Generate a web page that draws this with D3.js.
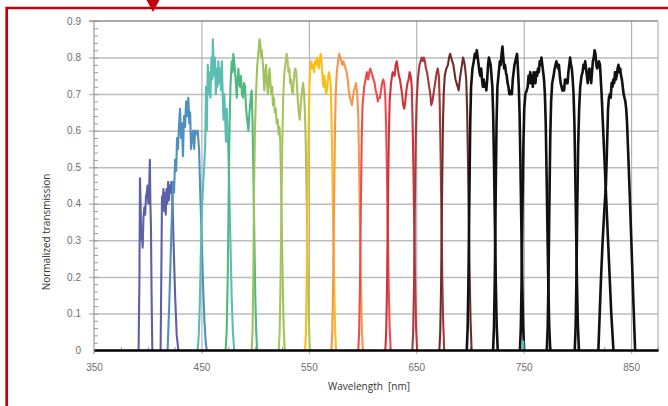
<!DOCTYPE html>
<html>
<head>
<meta charset="utf-8">
<script src="https://cdn.jsdelivr.net/npm/d3@7"></script>
<style>
  body { margin: 0; background: #fff; }
  svg { display: block; font-family: "Open Sans", sans-serif; }
</style>
</head>
<body>
<svg id="chart" width="668" height="406"></svg>
<script>
// each band: [wavelength (nm), normalized transmission]
const violet1 = [[391.5,0],[392.3,0.2],[392.8,0.47],[393.4,0.4],[393.9,0.3],[394.6,0.33],[395.3,0.28],[396,0.36],[396.8,0.39],[397.6,0.37],[398.4,0.42],[399.2,0.43],[399.8,0.45],[400.6,0.4],[401.3,0.44],[402,0.52],[402.5,0.4],[403,0.34],[403.6,0.15],[404.3,0]];
const violet2 = [[412,0],[412.8,0.25],[413.3,0.42],[414,0.4],[414.6,0.44],[415.3,0.38],[416,0.43],[416.8,0.37],[417.5,0.44],[418.2,0.4],[419,0.46],[419.8,0.41],[420.5,0.45],[421.3,0.43],[422,0.46],[422.8,0.44],[424,0.3],[425.5,0.15],[427,0.04],[428.5,0]];
const steelBlue = [[418.5,0],[420,0.12],[422,0.32],[423.5,0.46],[424.5,0.43],[425.5,0.52],[426.5,0.49],[427.3,0.58],[428.2,0.55],[429.2,0.62],[430.1,0.66],[431,0.58],[431.8,0.62],[432.8,0.53],[433.8,0.64],[434.8,0.61],[435.7,0.68],[436.8,0.64],[437.8,0.69],[438.7,0.62],[439.5,0.65],[440.3,0.55],[441.2,0.58],[442.2,0.6],[443.2,0.55],[444.2,0.6],[445.2,0.59],[446.5,0.6],[447.8,0.55],[449,0.42],[450.3,0.3],[451.5,0.18],[452.8,0.08],[454,0.02],[455,0]];
const teal = [[446.5,0],[447.5,0.04],[448.5,0.13],[449.5,0.27],[450.5,0.38],[451.5,0.45],[452.5,0.5],[453.5,0.56],[454.3,0.72],[455,0.6],[455.9,0.78],[456.8,0.7],[457.6,0.76],[458.4,0.69],[459.3,0.8],[460,0.74],[460.6,0.85],[461.3,0.79],[461.9,0.75],[462.6,0.8],[463.4,0.7],[464.2,0.77],[465,0.72],[465.8,0.79],[466.6,0.73],[467.4,0.77],[468.2,0.71],[469,0.79],[469.8,0.7],[470.5,0.63],[471.3,0.7],[472,0.64],[472.8,0.57],[473.6,0.66],[474.4,0.6],[475.3,0.52],[476.2,0.4],[477.2,0.27],[478.2,0.14],[479.3,0.05],[480.5,0]];
const green = [[472.5,0],[473.5,0.05],[474.5,0.2],[475.3,0.4],[476,0.58],[477,0.72],[478.2,0.79],[479,0.76],[479.7,0.81],[480.5,0.79],[481.3,0.76],[482.1,0.73],[482.9,0.69],[483.7,0.74],[484.4,0.77],[485.2,0.73],[485.9,0.72],[486.8,0.75],[487.7,0.7],[488.7,0.69],[489.6,0.73],[490.6,0.72],[491.4,0.67],[492.2,0.64],[493,0.62],[493.7,0.6],[494.5,0.64],[495.3,0.67],[496.2,0.7],[496.8,0.71],[497.6,0.62],[498.5,0.45],[499.4,0.28],[500.2,0.14],[501,0.05],[501.8,0]];
const yellowGreen = [[496.8,0],[497.6,0.05],[498.3,0.2],[499,0.45],[499.8,0.6],[500.8,0.7],[502,0.78],[503.2,0.82],[504,0.85],[504.8,0.84],[505.5,0.8],[506.2,0.82],[507,0.79],[507.8,0.76],[508.5,0.71],[509.3,0.75],[510.2,0.78],[511,0.73],[511.8,0.7],[512.6,0.74],[513.4,0.77],[514.2,0.73],[515,0.7],[515.8,0.72],[516.6,0.67],[517.4,0.69],[518.3,0.65],[519.2,0.66],[520.1,0.62],[521,0.63],[521.8,0.59],[522.6,0.61],[523.4,0.57],[524.2,0.45],[525,0.3],[525.8,0.16],[526.6,0.06],[527.5,0]];
const olive = [[522,0],[522.8,0.05],[523.6,0.18],[524.4,0.38],[525.2,0.55],[526,0.68],[527,0.75],[528,0.78],[529.4,0.81],[530.2,0.79],[531,0.76],[531.8,0.77],[532.6,0.73],[533.4,0.74],[534.2,0.71],[535,0.7],[535.8,0.73],[536.6,0.76],[537.4,0.77],[538.2,0.76],[539,0.72],[539.8,0.68],[540.6,0.65],[541.4,0.63],[542.2,0.66],[543,0.69],[543.8,0.71],[544.6,0.73],[545.4,0.71],[546.2,0.66],[547,0.58],[547.8,0.45],[548.6,0.3],[549.4,0.16],[550.2,0.06],[551,0]];
const gold = [[546.5,0],[547.3,0.05],[548.1,0.2],[548.9,0.42],[549.7,0.6],[550.5,0.72],[551.3,0.77],[552.3,0.79],[553.2,0.77],[554,0.78],[554.9,0.76],[555.8,0.79],[556.6,0.78],[557.5,0.8],[558.4,0.78],[559.3,0.77],[560.2,0.8],[561.1,0.81],[562,0.78],[562.8,0.74],[563.6,0.72],[564.4,0.75],[565.2,0.73],[566,0.7],[566.8,0.71],[567.7,0.74],[568.6,0.76],[569.5,0.75],[570.4,0.72],[571.2,0.62],[572,0.48],[572.8,0.32],[573.6,0.17],[574.4,0.06],[575.3,0]];
const orange = [[571,0],[571.8,0.05],[572.6,0.18],[573.4,0.4],[574.2,0.58],[575,0.7],[576,0.76],[577.2,0.79],[578.2,0.81],[579.2,0.8],[580.2,0.79],[581.2,0.78],[582.2,0.79],[583.2,0.78],[584.2,0.77],[585.2,0.76],[586.2,0.74],[587.2,0.71],[588.2,0.69],[589.2,0.68],[590.1,0.67],[591,0.69],[592,0.71],[593,0.72],[594,0.73],[595,0.7],[596,0.64],[596.8,0.5],[597.6,0.34],[598.4,0.19],[599.2,0.07],[600.2,0]];
const coral = [[596,0],[596.8,0.05],[597.6,0.18],[598.4,0.4],[599.2,0.58],[600,0.67],[601.5,0.72],[602.8,0.74],[604,0.76],[605.2,0.74],[606.2,0.76],[607.2,0.77],[608.2,0.76],[609.2,0.75],[610.2,0.74],[611.2,0.73],[612.2,0.71],[613.2,0.7],[614.2,0.68],[615.2,0.69],[616.2,0.69],[617.2,0.71],[618.2,0.73],[619.2,0.74],[620.2,0.73],[621.2,0.69],[622,0.6],[622.8,0.47],[623.6,0.31],[624.4,0.16],[625.2,0.06],[626.2,0]];
const red = [[621.2,0],[622,0.05],[622.8,0.18],[623.6,0.4],[624.4,0.58],[625.2,0.68],[626.5,0.73],[628,0.76],[629.8,0.75],[630.8,0.78],[631.8,0.79],[632.8,0.77],[633.8,0.75],[634.8,0.74],[635.8,0.72],[636.8,0.7],[637.8,0.67],[638.8,0.66],[639.8,0.68],[640.8,0.71],[641.8,0.73],[642.8,0.74],[643.8,0.76],[644.8,0.75],[645.8,0.72],[646.6,0.62],[647.4,0.48],[648.2,0.32],[649,0.17],[649.8,0.06],[650.8,0]];
const darkRed = [[646.3,0],[647.1,0.05],[647.9,0.18],[648.7,0.4],[649.5,0.58],[650.3,0.68],[651.5,0.74],[653,0.78],[655,0.8],[656,0.79],[657,0.8],[658,0.79],[659,0.77],[660,0.76],[661,0.74],[662,0.72],[663,0.7],[664,0.67],[665,0.68],[666,0.7],[667,0.72],[668,0.74],[669,0.76],[670,0.77],[671,0.75],[671.8,0.68],[672.6,0.54],[673.4,0.37],[674.2,0.2],[675,0.08],[676,0]];
const maroon = [[671.5,0],[672.3,0.05],[673.1,0.18],[673.9,0.4],[674.7,0.6],[675.5,0.7],[676.5,0.75],[678,0.77],[679.5,0.78],[680.5,0.8],[681.5,0.81],[682.5,0.8],[683.5,0.79],[684.5,0.78],[685.5,0.76],[686.5,0.74],[687.5,0.73],[688.5,0.72],[689.5,0.71],[690.5,0.74],[691.5,0.76],[692.5,0.78],[693.5,0.8],[694.5,0.79],[695.5,0.77],[696.5,0.74],[697.3,0.66],[698.1,0.52],[698.9,0.36],[699.7,0.2],[700.5,0.08],[701.5,0]];
const black1 = [[697,0],[697.8,0.06],[698.6,0.2],[699.4,0.42],[700.2,0.62],[701,0.72],[702.3,0.77],[703.5,0.79],[704.5,0.81],[705.5,0.8],[706.3,0.82],[707.2,0.8],[708,0.78],[708.8,0.76],[709.6,0.75],[710.4,0.77],[711.2,0.74],[712,0.72],[712.8,0.74],[713.6,0.72],[714.4,0.73],[715.2,0.71],[716,0.74],[716.8,0.78],[717.6,0.8],[718.4,0.79],[719.2,0.78],[720,0.75],[720.8,0.72],[721.6,0.64],[722.4,0.5],[723.2,0.34],[724,0.19],[724.8,0.07],[725.8,0]];
const black2 = [[721.5,0],[722.3,0.06],[723.1,0.2],[723.9,0.42],[724.7,0.62],[725.5,0.72],[726.8,0.76],[727.8,0.79],[728.6,0.78],[729.4,0.81],[730.2,0.83],[731,0.8],[731.8,0.77],[732.6,0.78],[733.4,0.76],[734.2,0.75],[735,0.73],[735.8,0.72],[736.6,0.7],[737.4,0.7],[738.2,0.71],[739,0.7],[739.8,0.74],[740.6,0.76],[741.4,0.78],[742.2,0.79],[743,0.8],[743.8,0.81],[744.6,0.77],[745.4,0.72],[746.2,0.64],[747,0.5],[747.8,0.34],[748.6,0.19],[749.4,0.07],[750.4,0]];
const black3 = [[746.5,0],[747.3,0.06],[748.1,0.2],[748.9,0.4],[749.7,0.56],[750.5,0.66],[751.5,0.7],[752.8,0.71],[753.7,0.72],[754.5,0.75],[755.3,0.73],[756.1,0.76],[756.9,0.73],[757.7,0.75],[758.5,0.72],[759.3,0.76],[760.1,0.74],[760.9,0.73],[761.7,0.76],[762.5,0.75],[763.3,0.77],[764.1,0.76],[764.9,0.79],[765.7,0.78],[766.5,0.8],[767.3,0.78],[768.1,0.76],[768.9,0.74],[769.7,0.7],[770.5,0.62],[771.3,0.48],[772.1,0.33],[772.9,0.18],[773.7,0.07],[774.7,0]];
const black4 = [[771.5,0],[772.3,0.06],[773.1,0.2],[773.9,0.4],[774.7,0.58],[775.5,0.68],[776.5,0.73],[777.8,0.75],[778.8,0.77],[779.6,0.78],[780.4,0.79],[781.2,0.78],[782,0.77],[782.8,0.78],[783.6,0.75],[784.4,0.73],[785.2,0.72],[786,0.71],[786.8,0.72],[787.6,0.71],[788.4,0.74],[789.2,0.73],[790,0.74],[790.8,0.73],[791.6,0.76],[792.4,0.78],[793.2,0.8],[794,0.78],[794.8,0.77],[795.6,0.74],[796.4,0.7],[797.2,0.62],[798,0.48],[798.8,0.33],[799.6,0.18],[800.4,0.07],[801.4,0]];
const black5 = [[797.5,0],[798.3,0.06],[799.1,0.2],[799.9,0.4],[800.7,0.56],[801.6,0.66],[802.6,0.72],[803.8,0.75],[804.8,0.76],[805.6,0.78],[806.4,0.77],[807.2,0.79],[808,0.77],[808.8,0.75],[809.6,0.73],[810.4,0.76],[811.2,0.77],[812,0.75],[812.8,0.73],[813.6,0.76],[814.4,0.79],[815.2,0.8],[816,0.82],[816.8,0.81],[817.6,0.78],[818.4,0.77],[819.2,0.78],[820,0.79],[821,0.78],[822.5,0.7],[824,0.6],[825.5,0.5],[827,0.4],[828.5,0.3],[830,0.2],[831.5,0.1],[833.5,0]];
const black6 = [[819.5,0],[820.5,0.08],[822,0.2],[823.5,0.3],[825,0.38],[826.5,0.45],[827.5,0.55],[828.5,0.66],[829.3,0.69],[830.2,0.7],[831,0.69],[831.8,0.73],[832.6,0.72],[833.4,0.74],[834.2,0.73],[835,0.76],[835.8,0.74],[836.6,0.75],[837.4,0.77],[838.2,0.78],[839,0.76],[839.8,0.77],[840.6,0.75],[841.4,0.74],[842.2,0.72],[843,0.7],[843.8,0.69],[844.6,0.68],[845.4,0.66],[846.2,0.62],[847.5,0.52],[849,0.4],[850.5,0.27],[852,0.14],[853.7,0]];
const tealBlip = [[748.8,0],[749,0.024],[749.6,0.024],[749.8,0]];

const bands = [violet1, violet2, steelBlue, teal, green, yellowGreen, olive, gold, orange, coral, red, darkRed, maroon, black1, black2, black3, black4, black5, black6, tealBlip];
const bandColors = ["#5b60a9", "#5b60a9", "#5090bf", "#5cbdb3", "#50b880", "#a0c25a", "#aac262", "#fbbe17", "#f7964a", "#ee4b4f", "#d1323a", "#a43a3c", "#6d2b2b",
                    "#111", "#111", "#111", "#111", "#111", "#111", "#5cbdb3"];

const yLabels = [0, 0.1, 0.2, 0.3, 0.4, 0.5, 0.6, 0.7, 0.8, 0.9];
const xLabels = [350, 450, 550, 650, 750, 850];
const xMinor = [375, 400, 425, 475, 500, 525, 575, 600, 625, 675, 700, 725, 775, 800, 825, 875];

const plotLeft = 94, plotRight = 658, plotTop = 21, plotBottom = 350;

const svg = d3.select("#chart");

const x = d3.scaleLinear().domain([350, 875]).range([plotLeft, plotRight]);
const y = d3.scaleLinear().domain([0, 0.9]).range([plotBottom, plotTop]);

// horizontal gridlines (stick out a bit to the left of the axis)
const yGrid = svg.append("g")
    .attr("transform", "translate(" + (plotLeft - 5) + ",0)")
    .call(d3.axisRight(y).tickValues(yLabels.slice(1, -1)).tickSize(plotRight - plotLeft + 5).tickFormat(""));
yGrid.select(".domain").remove();
yGrid.selectAll("line").attr("stroke", "#bcbcbc").attr("stroke-width", 1.5);

// vertical gridlines at labelled wavelengths, running slightly below the axis
const xGrid = svg.append("g")
    .attr("transform", "translate(0," + (plotBottom + 4) + ")")
    .call(d3.axisTop(x).tickValues(xLabels.slice(1)).tickSize(plotBottom + 4 - plotTop).tickFormat(""));
xGrid.select(".domain").remove();
xGrid.selectAll("line").attr("stroke", "#a6a6a6").attr("stroke-width", 1);

// y minor ticks
const yMinor = svg.append("g")
    .attr("transform", "translate(" + plotLeft + ",0)")
    .call(d3.axisRight(y).ticks(45).tickSize(4).tickFormat(""));
yMinor.select(".domain").remove();
yMinor.selectAll("line").attr("stroke", "#9a9a9a").attr("stroke-width", 1);

// frame: left axis line, top, right
svg.append("line").attr("x1", plotLeft).attr("x2", plotLeft).attr("y1", plotTop).attr("y2", plotBottom + 4)
    .attr("stroke", "#9a9a9a").attr("stroke-width", 1.2);
svg.append("line").attr("x1", plotLeft - 5).attr("x2", plotRight).attr("y1", plotTop).attr("y2", plotTop)
    .attr("stroke", "#8c8c8c").attr("stroke-width", 1.6);
svg.append("line").attr("x1", plotRight).attr("x2", plotRight).attr("y1", plotTop).attr("y2", plotBottom)
    .attr("stroke", "#a6a6a6").attr("stroke-width", 1);

// y tick labels
const yAxis = svg.append("g")
    .attr("transform", "translate(" + plotLeft + ",0)")
    .call(d3.axisLeft(y).tickValues(yLabels).tickSize(0).tickPadding(13)
      .tickFormat(d => d === 0 ? "0" : d3.format(".1f")(d)));
yAxis.select(".domain").remove();
yAxis.selectAll("text").attr("fill", "#6e6e6e").style("font-size", "10px");

// x minor ticks (pointing up)
const xMin = svg.append("g")
    .attr("transform", "translate(0," + plotBottom + ")")
    .call(d3.axisTop(x).tickValues(xMinor).tickSize(3).tickFormat(""));
xMin.select(".domain").remove();
xMin.selectAll("line").attr("stroke", "#9a9a9a");

// spectra
const line = d3.line().x(d => x(d[0])).y(d => y(d[1]));
svg.append("g").selectAll("path")
  .data(bands)
  .join("path")
    .attr("d", line)
    .attr("fill", "none")
    .attr("stroke", (d, i) => bandColors[i])
    .attr("stroke-width", (d, i) => bandColors[i] === "#111" ? 2.6 : 2.1)
    .attr("stroke-linejoin", "round");

// x axis
const xAxis = svg.append("g")
    .attr("transform", "translate(0," + plotBottom + ")")
    .call(d3.axisBottom(x).tickValues(xLabels).tickSize(0).tickPadding(14));
xAxis.select(".domain").attr("stroke", "#000").attr("stroke-width", 2.7);
xAxis.selectAll("text").attr("fill", "#6e6e6e").style("font-size", "10px");

// axis titles
svg.append("text")
    .attr("transform", "translate(46,232) rotate(-90)")
    .attr("text-anchor", "middle")
    .attr("dominant-baseline", "central")
    .attr("fill", "#333")
    .style("font-size", "10px")
    .text("Normalized transmission");
svg.append("text")
    .attr("x", 369).attr("y", 390)
    .attr("text-anchor", "middle")
    .attr("fill", "#333")
    .style("font-size", "10px")
    .style("white-space", "pre")
    .text("Wavelength  [nm]");

// red page frame with marker
svg.append("path")
    .attr("d", "M6.7,406V8H668")
    .attr("fill", "none")
    .attr("stroke", "#c4000b")
    .attr("stroke-width", 2.7);
svg.append("path")
    .attr("d", "M146.5,0H159.5L153,12Z")
    .attr("fill", "#c4000b");
</script>
</body>
</html>
